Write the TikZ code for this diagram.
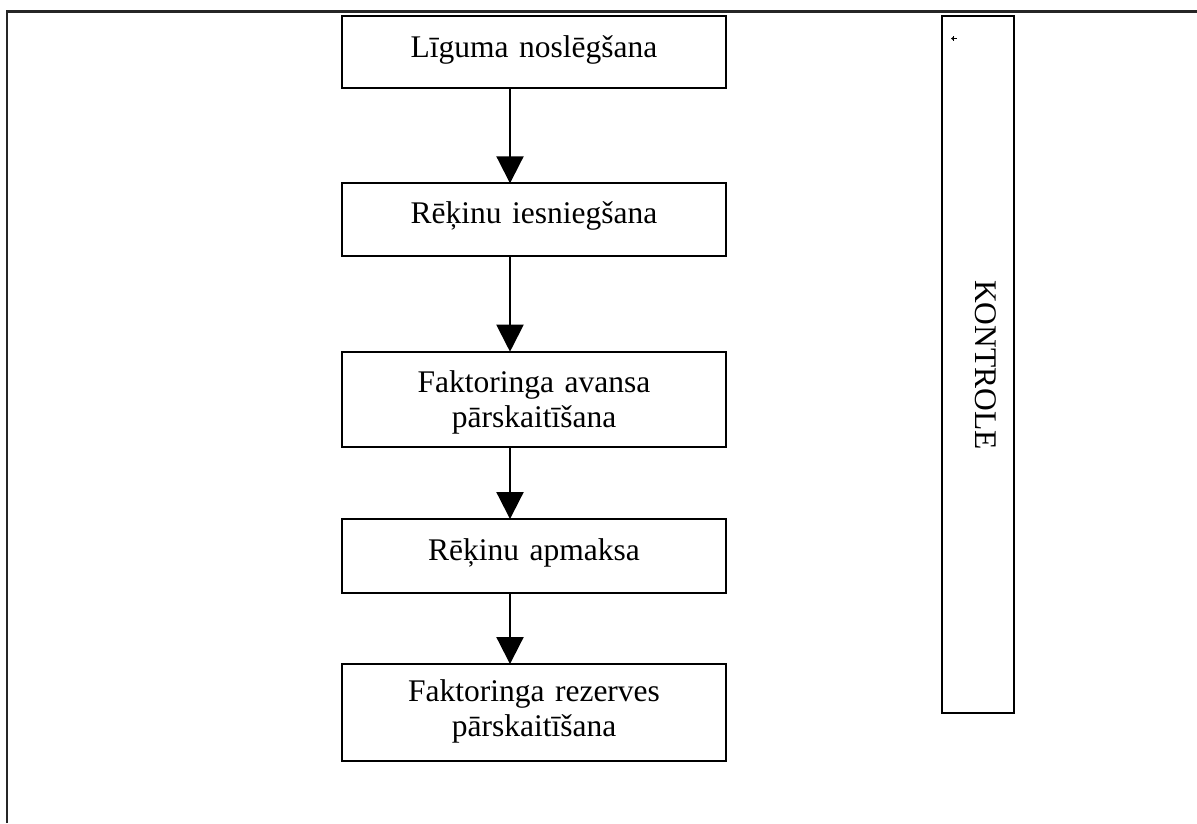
\documentclass[tikz,border=0pt]{standalone}
\usepackage{fontspec}
\setmainfont{Liberation Serif}
\usetikzlibrary{arrows.meta}
\begin{document}
\begin{tikzpicture}[x=1pt,y=-1pt,
  stepbox/.style={draw=black,line width=2.2pt,inner sep=0pt,outer sep=0pt,minimum width=384pt},
  lbl/.style={inner sep=0pt,text width=370pt,align=center,anchor=base,
    font=\fontsize{31.5}{34.5}\selectfont},
  flow/.style={line width=2pt,-{Triangle[width=27pt,length=27pt]}},
  frame/.style={line width=2.6pt,draw=black!85}]
\useasboundingbox (0,0) rectangle (1197,823);
% outer frame (top and left edges visible)
\draw[frame] (7,823) -- (7,11.5) -- (1197,11.5);
% boxes
\node[stepbox,minimum height=72pt] (b1) at (534,51.7) {};
\node[stepbox,minimum height=72.4pt] (b2) at (534,219.5) {};
\node[stepbox,minimum height=95.6pt] (b3) at (534,399.5) {};
\node[stepbox,minimum height=73.7pt] (b4) at (534,555.9) {};
\node[stepbox,minimum height=96.7pt] (b5) at (534,712.4) {};
\node[draw=black,line width=2.2pt,inner sep=0pt,minimum width=72.3pt,minimum height=697pt] (k) at (977.9,364.2) {};
% texts
\node[lbl] (t1) at (534,57) {Līguma noslēgšana};
\node[lbl] (t2) at (534,223.5) {Rēķinu iesniegšana};
\node[lbl] (t3) at (534,392.7) {Faktoringa avansa\\pārskaitīšana};
\node[lbl] (t4) at (534,560) {Rēķinu apmaksa};
\node[lbl] (t5) at (534,701.7) {Faktoringa rezerves\\pārskaitīšana};
\node[inner sep=0pt,rotate=-90,anchor=base,font=\fontsize{31.5}{34.5}\selectfont] (tk) at (975.5,365) {KONTROLE};
% connectors
\coordinate (ax) at (510,0);
\draw[flow] (b1.south -| ax) -- (b2.north -| ax);
\draw[flow] (b2.south -| ax) -- (b3.north -| ax);
\draw[flow] (b3.south -| ax) -- (b4.north -| ax);
\draw[flow] (b4.south -| ax) -- (b5.north -| ax);
% small mark inside the control box
\draw[line width=1pt,{Stealth[length=3pt,width=4pt]}-] (951,38.5) -- (957,38.5);
\draw[line width=1pt] (953.5,36) -- (953.5,41);
\end{tikzpicture}
\end{document}
